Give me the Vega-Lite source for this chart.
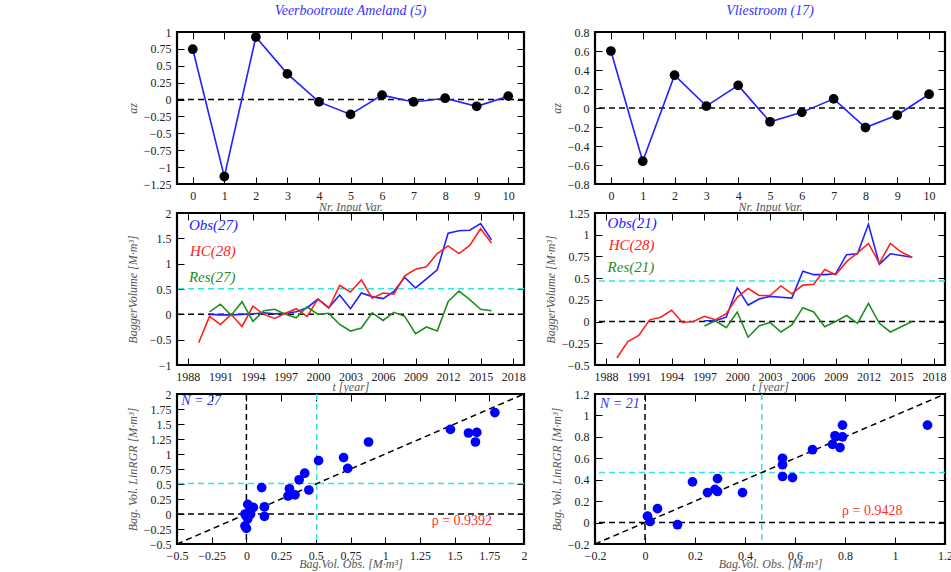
{
  "$schema": "https://vega.github.io/schema/vega-lite/v6.json",
  "padding": {"left": 125, "top": 2, "right": 2, "bottom": 1},
  "background": "white",
  "columns": 2,
  "align": "each",
  "bounds": "flush",
  "spacing": {"row": 29, "column": 71},
  "config": {
    "font": "Liberation Serif",
    "view": {"stroke": "black", "strokeWidth": 2.2},
    "axis": {
      "grid": false,
      "domain": false,
      "tickColor": "black",
      "tickSize": -7,
      "tickWidth": 1,
      "labelPadding": 13,
      "labelFont": "Liberation Serif",
      "labelFontSize": 12,
      "labelColor": "#222222",
      "labelFlush": false,
      "labelOverlap": false,
      "titleFont": "Liberation Serif",
      "titleFontStyle": "italic",
      "titleFontWeight": "normal",
      "titleFontSize": 12,
      "titleColor": "#555555"
    },
    "title": {
      "font": "Liberation Serif",
      "fontStyle": "italic",
      "fontWeight": "normal",
      "fontSize": 14,
      "color": "#3333ff",
      "offset": 8
    }
  },
  "datasets": {
    "az_ameland": [
      {"nr": 0, "az": 0.745}, {"nr": 1, "az": -1.14}, {"nr": 2, "az": 0.925},
      {"nr": 3, "az": 0.38}, {"nr": 4, "az": -0.035}, {"nr": 5, "az": -0.22},
      {"nr": 6, "az": 0.065}, {"nr": 7, "az": -0.035}, {"nr": 8, "az": 0.02},
      {"nr": 9, "az": -0.1}, {"nr": 10, "az": 0.05}
    ],
    "az_vlie": [
      {"nr": 0, "az": 0.6}, {"nr": 1, "az": -0.56}, {"nr": 2, "az": 0.345},
      {"nr": 3, "az": 0.02}, {"nr": 4, "az": 0.238}, {"nr": 5, "az": -0.145},
      {"nr": 6, "az": -0.046}, {"nr": 7, "az": 0.096}, {"nr": 8, "az": -0.206},
      {"nr": 9, "az": -0.074}, {"nr": 10, "az": 0.145}
    ],
    "ameland": [
      {"year": 1989, "obs": null, "hc": -0.56, "res": null},
      {"year": 1990, "obs": 0.0, "hc": -0.04, "res": 0.05},
      {"year": 1991, "obs": -0.01, "hc": -0.2, "res": 0.2},
      {"year": 1992, "obs": -0.01, "hc": 0.0, "res": -0.02},
      {"year": 1993, "obs": 0.0, "hc": -0.24, "res": 0.25},
      {"year": 1994, "obs": 0.01, "hc": 0.16, "res": -0.14},
      {"year": 1995, "obs": 0.03, "hc": 0.0, "res": 0.07},
      {"year": 1996, "obs": 0.01, "hc": -0.08, "res": 0.1},
      {"year": 1997, "obs": 0.02, "hc": 0.02, "res": 0.0},
      {"year": 1998, "obs": 0.05, "hc": 0.11, "res": -0.07},
      {"year": 1999, "obs": 0.13, "hc": -0.04, "res": 0.15},
      {"year": 2000, "obs": 0.3, "hc": 0.3, "res": 0.0},
      {"year": 2001, "obs": 0.13, "hc": 0.12, "res": 0.02},
      {"year": 2002, "obs": 0.38, "hc": 0.57, "res": -0.2},
      {"year": 2003, "obs": 0.11, "hc": 0.44, "res": -0.33},
      {"year": 2004, "obs": 0.42, "hc": 0.68, "res": -0.27},
      {"year": 2005, "obs": 0.35, "hc": 0.32, "res": 0.03},
      {"year": 2006, "obs": 0.31, "hc": 0.42, "res": -0.12},
      {"year": 2007, "obs": 0.45, "hc": 0.4, "res": 0.04},
      {"year": 2008, "obs": 0.73, "hc": 0.76, "res": -0.04},
      {"year": 2009, "obs": 0.52, "hc": 0.89, "res": -0.38},
      {"year": 2010, "obs": 0.7, "hc": 0.94, "res": -0.25},
      {"year": 2011, "obs": 0.88, "hc": 1.2, "res": -0.33},
      {"year": 2012, "obs": 1.6, "hc": 1.35, "res": 0.25},
      {"year": 2013, "obs": 1.65, "hc": 1.2, "res": 0.46},
      {"year": 2014, "obs": 1.66, "hc": 1.36, "res": 0.29},
      {"year": 2015, "obs": 1.79, "hc": 1.69, "res": 0.1},
      {"year": 2016, "obs": 1.47, "hc": 1.41, "res": 0.07}
    ],
    "vlie": [
      {"year": 1989, "obs": null, "hc": -0.42, "res": null},
      {"year": 1990, "obs": null, "hc": -0.23, "res": null},
      {"year": 1991, "obs": null, "hc": -0.16, "res": null},
      {"year": 1992, "obs": null, "hc": 0.02, "res": null},
      {"year": 1993, "obs": null, "hc": 0.05, "res": null},
      {"year": 1994, "obs": null, "hc": 0.13, "res": null},
      {"year": 1995, "obs": null, "hc": -0.01, "res": null},
      {"year": 1996, "obs": null, "hc": 0.0, "res": null},
      {"year": 1997, "obs": 0.01, "hc": 0.06, "res": -0.05},
      {"year": 1998, "obs": 0.01, "hc": 0.02, "res": 0.01},
      {"year": 1999, "obs": 0.05, "hc": 0.09, "res": -0.07},
      {"year": 2000, "obs": 0.39, "hc": 0.28, "res": 0.11},
      {"year": 2001, "obs": 0.19, "hc": 0.38, "res": -0.18},
      {"year": 2002, "obs": 0.26, "hc": 0.3, "res": -0.05},
      {"year": 2003, "obs": 0.29, "hc": 0.3, "res": -0.01},
      {"year": 2004, "obs": 0.28, "hc": 0.41, "res": -0.12},
      {"year": 2005, "obs": 0.27, "hc": 0.32, "res": -0.04},
      {"year": 2006, "obs": 0.58, "hc": 0.42, "res": 0.16},
      {"year": 2007, "obs": 0.54, "hc": 0.43, "res": 0.11},
      {"year": 2008, "obs": 0.54, "hc": 0.6, "res": -0.06},
      {"year": 2009, "obs": 0.55, "hc": 0.54, "res": 0.0},
      {"year": 2010, "obs": 0.77, "hc": 0.69, "res": 0.07},
      {"year": 2011, "obs": 0.78, "hc": 0.79, "res": -0.02},
      {"year": 2012, "obs": 1.12, "hc": 0.9, "res": 0.21},
      {"year": 2013, "obs": 0.66, "hc": 0.67, "res": -0.02},
      {"year": 2014, "obs": 0.78, "hc": 0.9, "res": -0.12},
      {"year": 2015, "obs": 0.76, "hc": 0.8, "res": -0.06},
      {"year": 2016, "obs": 0.74, "hc": 0.74, "res": 0.0}
    ],
    "vlie_pairs": [
      {"obs": 0.01, "hc": 0.06}, {"obs": 0.02, "hc": 0.01}, {"obs": 0.05, "hc": 0.13},
      {"obs": 0.13, "hc": -0.02}, {"obs": 0.19, "hc": 0.38}, {"obs": 0.25, "hc": 0.28},
      {"obs": 0.28, "hc": 0.31}, {"obs": 0.29, "hc": 0.41}, {"obs": 0.29, "hc": 0.29},
      {"obs": 0.39, "hc": 0.28}, {"obs": 0.55, "hc": 0.6}, {"obs": 0.55, "hc": 0.54},
      {"obs": 0.55, "hc": 0.43}, {"obs": 0.59, "hc": 0.42}, {"obs": 0.67, "hc": 0.68},
      {"obs": 0.75, "hc": 0.73}, {"obs": 0.76, "hc": 0.81}, {"obs": 0.78, "hc": 0.7},
      {"obs": 0.79, "hc": 0.91}, {"obs": 0.79, "hc": 0.8}, {"obs": 1.13, "hc": 0.91}
    ],
    "diag_ameland": [{"v": -0.5}, {"v": 2}],
    "diag_vlie": [{"v": -0.2}, {"v": 1.2}]
  },
  "concat": [
    {
      "width": 347, "height": 152,
      "title": {"text": "Veerbootroute  Ameland  (5)"},
      "resolve": {"axis": {"x": "independent", "y": "independent"}},
      "layer": [
        {"data": {"values": [{}]}, "mark": {"type": "rule", "color": "black", "strokeDash": [6, 4], "strokeWidth": 1.5},
         "encoding": {"y": {"datum": 0, "type": "quantitative", "axis": null}}},
        {"data": {"name": "az_ameland"}, "mark": {"type": "line", "color": "#1f1fff", "strokeWidth": 1.6},
         "encoding": {
           "x": {"field": "nr", "type": "quantitative", "scale": {"domain": [-0.5, 10.5], "nice": false, "zero": false},
                 "axis": {"orient": "bottom", "values": [0, 1, 2, 3, 4, 5, 6, 7, 8, 9, 10], "format": ".4~g", "title": "Nr.  Input  Var.", "titlePadding": 0}},
           "y": {"field": "az", "type": "quantitative", "scale": {"domain": [-1.25, 1], "nice": false, "zero": false},
                 "axis": {"orient": "left", "values": [-1.25, -1, -0.75, -0.5, -0.25, 0, 0.25, 0.5, 0.75, 1], "format": ".4~g", "title": "az", "titlePadding": 4}}}},
        {"data": {"name": "az_ameland"}, "mark": {"type": "circle", "color": "black", "size": 95, "opacity": 1},
         "encoding": {
           "x": {"field": "nr", "type": "quantitative", "axis": {"orient": "top", "labels": false, "title": null, "values": [0, 1, 2, 3, 4, 5, 6, 7, 8, 9, 10]}},
           "y": {"field": "az", "type": "quantitative", "axis": {"orient": "right", "labels": false, "title": null, "values": [-1.25, -1, -0.75, -0.5, -0.25, 0, 0.25, 0.5, 0.75, 1]}}}}
      ]
    },
    {
      "width": 350, "height": 152,
      "title": {"text": "Vliestroom  (17)"},
      "resolve": {"axis": {"x": "independent", "y": "independent"}},
      "layer": [
        {"data": {"values": [{}]}, "mark": {"type": "rule", "color": "black", "strokeDash": [6, 4], "strokeWidth": 1.5},
         "encoding": {"y": {"datum": 0, "type": "quantitative", "axis": null}}},
        {"data": {"name": "az_vlie"}, "mark": {"type": "line", "color": "#1f1fff", "strokeWidth": 1.6},
         "encoding": {
           "x": {"field": "nr", "type": "quantitative", "scale": {"domain": [-0.5, 10.5], "nice": false, "zero": false},
                 "axis": {"orient": "bottom", "values": [0, 1, 2, 3, 4, 5, 6, 7, 8, 9, 10], "format": ".4~g", "title": "Nr.  Input  Var.", "titlePadding": 0}},
           "y": {"field": "az", "type": "quantitative", "scale": {"domain": [-0.8, 0.8], "nice": false, "zero": false},
                 "axis": {"orient": "left", "values": [-0.8, -0.6, -0.4, -0.2, 0, 0.2, 0.4, 0.6, 0.8], "format": ".4~g", "title": "az", "titlePadding": 4}}}},
        {"data": {"name": "az_vlie"}, "mark": {"type": "circle", "color": "black", "size": 95, "opacity": 1},
         "encoding": {
           "x": {"field": "nr", "type": "quantitative", "axis": {"orient": "top", "labels": false, "title": null, "values": [0, 1, 2, 3, 4, 5, 6, 7, 8, 9, 10]}},
           "y": {"field": "az", "type": "quantitative", "axis": {"orient": "right", "labels": false, "title": null, "values": [-0.8, -0.6, -0.4, -0.2, 0, 0.2, 0.4, 0.6, 0.8]}}}}
      ]
    },
    {
      "width": 347, "height": 152,
      "resolve": {"axis": {"x": "independent", "y": "independent"}},
      "layer": [
        {"data": {"values": [{}]}, "mark": {"type": "rule", "color": "black", "strokeDash": [6, 4], "strokeWidth": 1.5},
         "encoding": {"y": {"datum": 0, "type": "quantitative", "axis": null}}},
        {"data": {"name": "ameland"}, "mark": {"type": "rule", "color": "#2ee6e6", "strokeDash": [6, 4], "strokeWidth": 1.5},
         "encoding": {"y": {"aggregate": "mean", "field": "obs", "type": "quantitative", "axis": null}}},
        {"data": {"name": "ameland"}, "mark": {"type": "line", "color": "#1f1fff", "strokeWidth": 1.6},
         "encoding": {
           "x": {"field": "year", "type": "quantitative", "scale": {"domain": [1987, 2019], "nice": false, "zero": false},
                 "axis": {"orient": "bottom", "values": [1988, 1991, 1994, 1997, 2000, 2003, 2006, 2009, 2012, 2015, 2018], "format": "d", "title": "t  [year]", "titlePadding": -1}},
           "y": {"field": "obs", "type": "quantitative", "scale": {"domain": [-1, 2], "nice": false, "zero": false},
                 "axis": {"orient": "left", "values": [-1, -0.5, 0, 0.5, 1, 1.5, 2], "format": ".4~g", "title": "BaggerVolume  [M·m³]", "titlePadding": 10}}}},
        {"data": {"name": "ameland"}, "mark": {"type": "line", "color": "#ff2020", "strokeWidth": 1.6},
         "encoding": {
           "x": {"field": "year", "type": "quantitative", "axis": {"orient": "top", "labels": false, "title": null, "values": [1988, 1991, 1994, 1997, 2000, 2003, 2006, 2009, 2012, 2015, 2018]}},
           "y": {"field": "hc", "type": "quantitative", "axis": {"orient": "right", "labels": false, "title": null, "values": [-1, -0.5, 0, 0.5, 1, 1.5, 2]}}}},
        {"data": {"name": "ameland"}, "mark": {"type": "line", "color": "#1e8c1e", "strokeWidth": 1.6},
         "encoding": {
           "x": {"field": "year", "type": "quantitative", "axis": null},
           "y": {"field": "res", "type": "quantitative", "axis": null}}},
        {"data": {"values": [{}]}, "mark": {"type": "text", "text": "Obs(27)", "color": "#2020ff", "align": "left", "baseline": "middle", "fontSize": 15, "fontStyle": "italic", "font": "Liberation Serif"},
         "encoding": {"x": {"datum": 1988.1, "type": "quantitative", "axis": null}, "y": {"datum": 1.76, "type": "quantitative", "axis": null}}},
        {"data": {"values": [{}]}, "mark": {"type": "text", "text": "HC(28)", "color": "#ff2020", "align": "left", "baseline": "middle", "fontSize": 15, "fontStyle": "italic", "font": "Liberation Serif"},
         "encoding": {"x": {"datum": 1988.2, "type": "quantitative", "axis": null}, "y": {"datum": 1.25, "type": "quantitative", "axis": null}}},
        {"data": {"values": [{}]}, "mark": {"type": "text", "text": "Res(27)", "color": "#1e8c1e", "align": "left", "baseline": "middle", "fontSize": 15, "fontStyle": "italic", "font": "Liberation Serif"},
         "encoding": {"x": {"datum": 1988.1, "type": "quantitative", "axis": null}, "y": {"datum": 0.73, "type": "quantitative", "axis": null}}}
      ]
    },
    {
      "width": 350, "height": 152,
      "resolve": {"axis": {"x": "independent", "y": "independent"}},
      "layer": [
        {"data": {"values": [{}]}, "mark": {"type": "rule", "color": "black", "strokeDash": [6, 4], "strokeWidth": 1.5},
         "encoding": {"y": {"datum": 0, "type": "quantitative", "axis": null}}},
        {"data": {"name": "vlie_pairs"}, "mark": {"type": "rule", "color": "#2ee6e6", "strokeDash": [6, 4], "strokeWidth": 1.5},
         "encoding": {"y": {"aggregate": "mean", "field": "obs", "type": "quantitative", "axis": null}}},
        {"data": {"name": "vlie"}, "mark": {"type": "line", "color": "#1f1fff", "strokeWidth": 1.6},
         "encoding": {
           "x": {"field": "year", "type": "quantitative", "scale": {"domain": [1987, 2019], "nice": false, "zero": false},
                 "axis": {"orient": "bottom", "values": [1988, 1991, 1994, 1997, 2000, 2003, 2006, 2009, 2012, 2015, 2018], "format": "d", "title": "t  [year]", "titlePadding": -1}},
           "y": {"field": "obs", "type": "quantitative", "scale": {"domain": [-0.5, 1.25], "nice": false, "zero": false},
                 "axis": {"orient": "left", "values": [-0.5, -0.25, 0, 0.25, 0.5, 0.75, 1, 1.25], "format": ".4~g", "title": "BaggerVolume  [M·m³]", "titlePadding": 4}}}},
        {"data": {"name": "vlie"}, "mark": {"type": "line", "color": "#ff2020", "strokeWidth": 1.6},
         "encoding": {
           "x": {"field": "year", "type": "quantitative", "axis": {"orient": "top", "labels": false, "title": null, "values": [1988, 1991, 1994, 1997, 2000, 2003, 2006, 2009, 2012, 2015, 2018]}},
           "y": {"field": "hc", "type": "quantitative", "axis": {"orient": "right", "labels": false, "title": null, "values": [-0.5, -0.25, 0, 0.25, 0.5, 0.75, 1, 1.25]}}}},
        {"data": {"name": "vlie"}, "mark": {"type": "line", "color": "#1e8c1e", "strokeWidth": 1.6},
         "encoding": {
           "x": {"field": "year", "type": "quantitative", "axis": null},
           "y": {"field": "res", "type": "quantitative", "axis": null}}},
        {"data": {"values": [{}]}, "mark": {"type": "text", "text": "Obs(21)", "color": "#2020ff", "align": "left", "baseline": "middle", "fontSize": 15, "fontStyle": "italic", "font": "Liberation Serif"},
         "encoding": {"x": {"datum": 1988.15, "type": "quantitative", "axis": null}, "y": {"datum": 1.14, "type": "quantitative", "axis": null}}},
        {"data": {"values": [{}]}, "mark": {"type": "text", "text": "HC(28)", "color": "#ff2020", "align": "left", "baseline": "middle", "fontSize": 15, "fontStyle": "italic", "font": "Liberation Serif"},
         "encoding": {"x": {"datum": 1988.25, "type": "quantitative", "axis": null}, "y": {"datum": 0.88, "type": "quantitative", "axis": null}}},
        {"data": {"values": [{}]}, "mark": {"type": "text", "text": "Res(21)", "color": "#1e8c1e", "align": "left", "baseline": "middle", "fontSize": 15, "fontStyle": "italic", "font": "Liberation Serif"},
         "encoding": {"x": {"datum": 1988.15, "type": "quantitative", "axis": null}, "y": {"datum": 0.63, "type": "quantitative", "axis": null}}}
      ]
    },
    {
      "width": 347, "height": 150,
      "resolve": {"axis": {"x": "independent", "y": "independent"}},
      "layer": [
        {"data": {"values": [{}]}, "mark": {"type": "rule", "color": "black", "strokeDash": [6, 4], "strokeWidth": 1.5},
         "encoding": {"x": {"datum": 0, "type": "quantitative", "axis": null}}},
        {"data": {"values": [{}]}, "mark": {"type": "rule", "color": "black", "strokeDash": [6, 4], "strokeWidth": 1.5},
         "encoding": {"y": {"datum": 0, "type": "quantitative", "axis": null}}},
        {"data": {"name": "ameland"}, "mark": {"type": "rule", "color": "#2ee6e6", "strokeDash": [6, 4], "strokeWidth": 1.5},
         "encoding": {"x": {"aggregate": "mean", "field": "obs", "type": "quantitative", "axis": null}}},
        {"data": {"name": "ameland"}, "mark": {"type": "rule", "color": "#2ee6e6", "strokeDash": [6, 4], "strokeWidth": 1.5},
         "encoding": {"y": {"aggregate": "mean", "field": "obs", "type": "quantitative", "axis": null}}},
        {"data": {"name": "diag_ameland"}, "mark": {"type": "line", "color": "black", "strokeDash": [6, 4], "strokeWidth": 1.5},
         "encoding": {
           "x": {"field": "v", "type": "quantitative", "axis": {"orient": "top", "labels": false, "title": null, "values": [-0.5, -0.25, 0, 0.25, 0.5, 0.75, 1, 1.25, 1.5, 1.75, 2]}},
           "y": {"field": "v", "type": "quantitative", "axis": {"orient": "right", "labels": false, "title": null, "values": [-0.5, -0.25, 0, 0.25, 0.5, 0.75, 1, 1.25, 1.5, 1.75, 2]}}}},
        {"data": {"name": "ameland"}, "transform": [{"filter": "isValid(datum.obs)"}],
         "mark": {"type": "circle", "color": "#0000ff", "size": 95, "opacity": 1},
         "encoding": {
           "x": {"field": "obs", "type": "quantitative", "scale": {"domain": [-0.5, 2], "nice": false, "zero": false},
                 "axis": {"orient": "bottom", "values": [-0.5, -0.25, 0, 0.25, 0.5, 0.75, 1, 1.25, 1.5, 1.75, 2], "format": ".4~g", "title": "Bag.Vol.  Obs.  [M·m³]", "titlePadding": -3}},
           "y": {"field": "hc", "type": "quantitative", "scale": {"domain": [-0.5, 2], "nice": false, "zero": false},
                 "axis": {"orient": "left", "values": [-0.5, -0.25, 0, 0.25, 0.5, 0.75, 1, 1.25, 1.5, 1.75, 2], "format": ".4~g", "title": "Bag. Vol.   LinRGR  [M·m³]", "titlePadding": 4}}}},
        {"data": {"values": [{}]}, "mark": {"type": "text", "text": "N = 27", "color": "#3030ff", "align": "left", "baseline": "middle", "fontSize": 14, "fontStyle": "italic", "font": "Liberation Serif"},
         "encoding": {"x": {"datum": -0.47, "type": "quantitative", "axis": null}, "y": {"datum": 1.88, "type": "quantitative", "axis": null}}},
        {"data": {"values": [{}]}, "mark": {"type": "text", "text": "ρ = 0.9392", "color": "#ff3030", "align": "right", "baseline": "middle", "fontSize": 14, "font": "Liberation Serif"},
         "encoding": {"x": {"datum": 1.77, "type": "quantitative", "axis": null}, "y": {"datum": -0.12, "type": "quantitative", "axis": null}}}
      ]
    },
    {
      "width": 350, "height": 150,
      "resolve": {"axis": {"x": "independent", "y": "independent"}},
      "layer": [
        {"data": {"values": [{}]}, "mark": {"type": "rule", "color": "black", "strokeDash": [6, 4], "strokeWidth": 1.5},
         "encoding": {"x": {"datum": 0, "type": "quantitative", "axis": null}}},
        {"data": {"values": [{}]}, "mark": {"type": "rule", "color": "black", "strokeDash": [6, 4], "strokeWidth": 1.5},
         "encoding": {"y": {"datum": 0, "type": "quantitative", "axis": null}}},
        {"data": {"name": "vlie_pairs"}, "mark": {"type": "rule", "color": "#2ee6e6", "strokeDash": [6, 4], "strokeWidth": 1.5},
         "encoding": {"x": {"aggregate": "mean", "field": "obs", "type": "quantitative", "axis": null}}},
        {"data": {"name": "vlie_pairs"}, "mark": {"type": "rule", "color": "#2ee6e6", "strokeDash": [6, 4], "strokeWidth": 1.5},
         "encoding": {"y": {"aggregate": "mean", "field": "obs", "type": "quantitative", "axis": null}}},
        {"data": {"name": "diag_vlie"}, "mark": {"type": "line", "color": "black", "strokeDash": [6, 4], "strokeWidth": 1.5},
         "encoding": {
           "x": {"field": "v", "type": "quantitative", "axis": {"orient": "top", "labels": false, "title": null, "values": [-0.2, 0, 0.2, 0.4, 0.6, 0.8, 1, 1.2]}},
           "y": {"field": "v", "type": "quantitative", "axis": {"orient": "right", "labels": false, "title": null, "values": [-0.2, 0, 0.2, 0.4, 0.6, 0.8, 1, 1.2]}}}},
        {"data": {"name": "vlie_pairs"},
         "mark": {"type": "circle", "color": "#0000ff", "size": 95, "opacity": 1},
         "encoding": {
           "x": {"field": "obs", "type": "quantitative", "scale": {"domain": [-0.2, 1.2], "nice": false, "zero": false},
                 "axis": {"orient": "bottom", "values": [-0.2, 0, 0.2, 0.4, 0.6, 0.8, 1, 1.2], "format": ".4~g", "title": "Bag.Vol.  Obs.  [M·m³]", "titlePadding": -3}},
           "y": {"field": "hc", "type": "quantitative", "scale": {"domain": [-0.2, 1.2], "nice": false, "zero": false},
                 "axis": {"orient": "left", "values": [-0.2, 0, 0.2, 0.4, 0.6, 0.8, 1, 1.2], "format": ".4~g", "title": "Bag. Vol.   LinRGR  [M·m³]", "titlePadding": 4}}}},
        {"data": {"values": [{}]}, "mark": {"type": "text", "text": "N = 21", "color": "#3030ff", "align": "left", "baseline": "middle", "fontSize": 14, "fontStyle": "italic", "font": "Liberation Serif"},
         "encoding": {"x": {"datum": -0.18, "type": "quantitative", "axis": null}, "y": {"datum": 1.11, "type": "quantitative", "axis": null}}},
        {"data": {"values": [{}]}, "mark": {"type": "text", "text": "ρ = 0.9428", "color": "#ff3030", "align": "right", "baseline": "middle", "fontSize": 14, "font": "Liberation Serif"},
         "encoding": {"x": {"datum": 1.03, "type": "quantitative", "axis": null}, "y": {"datum": 0.105, "type": "quantitative", "axis": null}}}
      ]
    }
  ]
}
